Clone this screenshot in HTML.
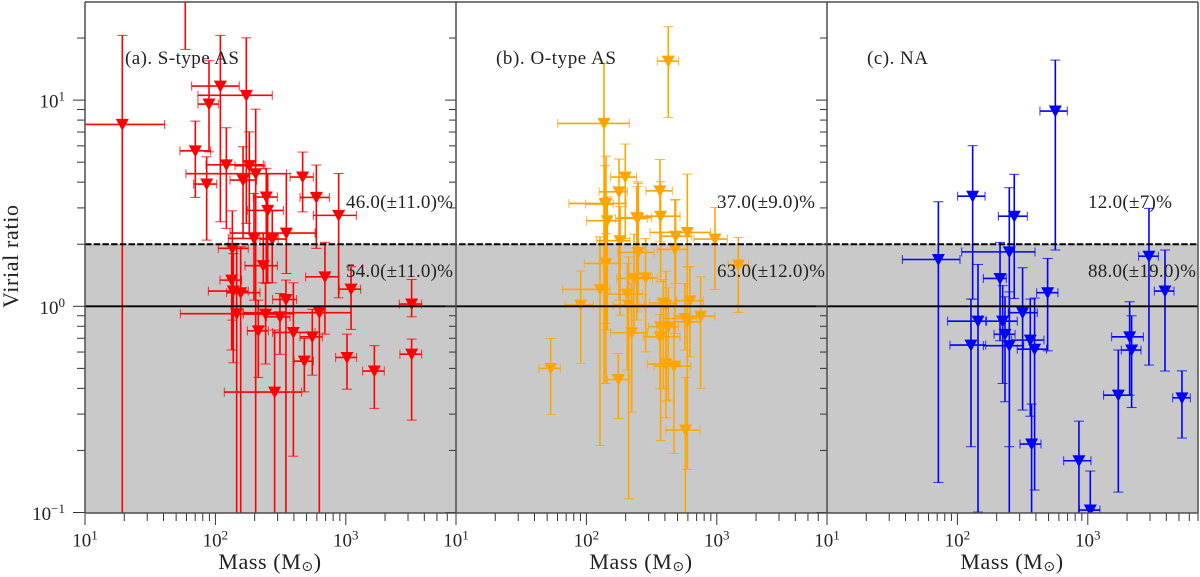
<!DOCTYPE html>
<html lang="en">
<head>
<meta charset="utf-8">
<title>Virial ratio versus mass</title>
<style>
html,body{margin:0;padding:0;background:#fff;width:1200px;height:577px;overflow:hidden}
svg{display:block;overflow:hidden}
text{font-family:"Liberation Serif","DejaVu Serif",serif;fill:#222}
</style>
</head>
<body>
<svg id="chart" xmlns="http://www.w3.org/2000/svg" width="1200" height="577" viewBox="0 0 1200 577">
  <defs>
    <clipPath id="clip-a"><rect x="85" y="2" width="371" height="511"/></clipPath>
    <clipPath id="clip-b"><rect x="456" y="2" width="371" height="511"/></clipPath>
    <clipPath id="clip-c"><rect x="827" y="2" width="371" height="511"/></clipPath>
  </defs>
  <rect x="85" y="244" width="1113" height="269" fill="#c9c9c9"/>
  <g id="marks"></g>
  <line x1="85" x2="1198" y1="244.2" y2="244.2" stroke="#000" stroke-width="2" stroke-dasharray="6.5 2.2"/>
  <line x1="85" x2="1198" y1="306.3" y2="306.3" stroke="#000" stroke-width="1.8"/>
  <g id="axes"></g>
  <g font-size="19">
    <text x="125" y="64" textLength="114">(a). S-type AS</text>
    <text x="496" y="64" textLength="120">(b). O-type AS</text>
    <text x="867" y="64" textLength="61">(c). NA</text>
    <text x="346" y="208" textLength="107">46.0(±11.0)%</text>
    <text x="346" y="277" textLength="107">54.0(±11.0)%</text>
    <text x="717" y="208" textLength="98">37.0(±9.0)%</text>
    <text x="717" y="277" textLength="108">63.0(±12.0)%</text>
    <text x="1088" y="208" textLength="84">12.0(±7)%</text>
    <text x="1088" y="277" textLength="108">88.0(±19.0)%</text>
  </g>
  <text transform="translate(18 308) rotate(-90)" font-size="22" textLength="103">Virial ratio</text>
  <text x="270" y="569" font-size="22" text-anchor="middle" letter-spacing="0.6">Mass (M<tspan dy="2" font-size="14" font-family="DejaVu Sans">⊙</tspan><tspan dy="-2">)</tspan></text>
  <text x="641" y="569" font-size="22" text-anchor="middle" letter-spacing="0.6">Mass (M<tspan dy="2" font-size="14" font-family="DejaVu Sans">⊙</tspan><tspan dy="-2">)</tspan></text>
  <text x="1012" y="569" font-size="22" text-anchor="middle" letter-spacing="0.6">Mass (M<tspan dy="2" font-size="14" font-family="DejaVu Sans">⊙</tspan><tspan dy="-2">)</tspan></text>
</svg>
<script>
// All values are log10 of the quantity. -1.5 means the lower bar runs off the axis.
const sLogMass=[1.286,1.769,1.951,2.038,2.237,1.846,1.933,2.084,2.212,2.260,2.309,2.390,2.401,2.669,2.774,2.945,2.544,2.296,2.436,2.130,2.367,2.840,2.125,3.040,2.137,2.194,2.541,3.505,2.163,2.385,2.495,2.797,2.329,2.598,2.743,3.009,2.682,3.505,3.219,2.454];
const sLogRatio=[0.882,1.700,0.981,1.068,1.023,0.754,0.593,0.686,0.612,0.682,0.643,0.530,0.465,0.627,0.528,0.441,0.355,0.329,0.326,0.281,0.197,0.143,0.127,0.083,0.074,0.066,0.033,0.011,-0.036,-0.038,-0.051,-0.031,-0.119,-0.127,-0.148,-0.248,-0.266,-0.232,-0.314,-0.416];
const sMassLow=[0.700,1.670,1.866,1.818,1.866,1.728,1.833,1.928,2.112,2.150,1.774,2.291,2.245,2.572,2.649,2.751,2.112,2.099,2.342,2.022,2.227,2.692,2.035,2.950,1.946,2.086,2.439,3.410,1.731,2.214,2.393,2.214,2.245,2.439,2.649,2.922,2.603,3.415,3.129,2.068];
const sMassHigh=[1.611,1.870,2.022,2.183,2.436,1.964,2.010,2.367,2.316,2.380,2.546,2.475,2.521,2.751,2.874,3.081,2.764,2.482,2.546,2.252,2.475,2.948,2.201,3.114,2.252,2.342,2.623,3.582,2.597,2.495,2.572,3.040,2.406,2.764,2.820,3.083,2.751,3.582,3.295,2.661];
const sRatioHigh=[1.314,2.200,1.191,1.314,1.302,0.898,0.725,0.866,0.774,0.846,0.956,0.669,0.644,0.748,0.685,0.644,0.644,0.547,0.463,0.463,0.353,0.310,0.289,0.192,0.256,0.289,0.127,0.130,0.305,0.111,0.062,-0.010,0.030,0.114,-0.015,-0.135,-0.156,-0.159,-0.191,-0.115];
const sRatioLow=[-1.5,1.246,0.749,0.410,0.402,0.528,0.321,0.378,0.329,0.353,-1.5,0.114,0.114,0.458,0.281,0.041,0.159,0.030,0.114,-0.067,0.114,-0.135,-0.212,-0.112,-0.274,-1.5,-1.5,-0.051,-1.5,-0.280,-0.233,-1.5,-0.345,-0.727,-0.334,-0.402,-0.415,-0.552,-0.495,-1.5];

const oLogMass=[2.628,2.135,2.298,2.250,2.564,2.150,2.143,2.569,2.393,2.386,2.160,2.684,2.774,2.986,3.165,2.258,2.679,2.398,2.150,2.365,2.454,2.104,1.956,2.314,2.324,2.347,1.726,2.245,2.759,2.876,2.794,2.756,2.774,2.610,2.590,2.569,2.628,2.564,2.610,2.672];
const oLogRatio=[1.189,0.887,0.627,0.555,0.560,0.499,0.496,0.437,0.426,0.430,0.415,0.340,0.358,0.326,0.200,0.318,0.276,0.261,0.208,0.135,0.138,0.082,0.006,0.059,0.006,-0.128,-0.301,-0.355,-0.600,-0.048,0.027,-0.059,-0.075,0.005,0.016,-0.099,-0.099,-0.148,-0.280,-0.290];
const oMassLow=[2.544,1.780,2.186,2.097,2.457,1.866,1.994,2.385,2.224,2.258,2.002,2.577,2.488,2.825,3.088,2.079,2.544,2.240,1.984,2.232,2.347,1.818,1.836,2.150,2.206,2.186,1.636,2.160,2.608,2.672,2.692,2.590,2.672,2.411,2.482,2.475,2.539,2.436,2.467,2.518];
const oMassHigh=[2.707,2.329,2.385,2.314,2.659,2.304,2.206,2.718,2.467,2.500,2.263,2.807,2.953,3.081,3.242,2.334,2.774,2.518,2.263,2.508,2.544,2.181,2.053,2.431,2.442,2.467,1.800,2.329,2.871,2.986,2.896,2.845,2.871,2.672,2.687,2.667,2.705,2.718,2.718,2.799];
const oRatioHigh=[1.356,1.178,0.787,0.714,0.712,0.728,0.682,0.604,0.604,0.580,0.531,0.518,0.641,0.479,0.334,0.483,0.515,0.596,0.353,0.350,0.329,0.337,0.171,0.208,0.240,0.110,-0.156,-0.229,-0.345,0.143,0.192,0.110,0.190,0.170,0.130,0.030,0.090,-0.040,-0.083,-0.100];
const oRatioLow=[0.916,-0.374,0.329,0.030,0.313,-0.115,-0.083,0.119,-0.027,-0.067,-0.115,0.111,0.192,0.082,-0.030,-0.043,-0.132,0.062,-0.374,-0.132,-0.221,-0.675,-0.277,-0.309,-0.933,-0.513,-0.524,-0.544,-1.5,-0.398,-0.245,-0.212,-0.791,-0.460,-0.400,-0.651,-0.455,-0.400,-0.541,-0.714];

const nLogMass=[2.751,2.117,1.854,2.436,2.398,2.327,3.469,3.592,2.692,2.500,2.158,2.347,2.365,2.104,2.398,2.559,2.592,3.321,3.336,3.234,3.722,2.569,2.932,3.019];
const nLogRatio=[0.947,0.534,0.227,0.437,0.264,0.135,0.243,0.074,0.066,-0.031,-0.072,-0.072,-0.136,-0.188,-0.191,-0.164,-0.208,-0.148,-0.212,-0.431,-0.444,-0.668,-0.749,-0.988];
const nMassLow=[2.633,2.002,1.578,2.314,2.033,2.199,3.390,3.510,2.608,2.390,1.925,2.224,2.281,1.943,2.199,2.416,2.459,3.183,3.257,3.121,3.651,2.480,2.815,2.935];
const nMassHigh=[2.843,2.212,2.020,2.536,2.595,2.375,3.541,3.661,2.771,2.613,2.217,2.459,2.442,2.217,2.508,2.664,2.684,3.426,3.408,3.336,3.786,2.641,3.024,3.093];
const nRatioHigh=[1.194,0.779,0.507,0.640,0.575,0.310,0.475,0.273,0.232,0.187,0.203,0.100,0.046,0.035,0.070,0.035,0.040,0.022,-0.046,-0.212,-0.313,-0.474,-0.557,-0.799];
const nRatioLow=[0.273,0.035,-0.854,0.038,-0.681,-0.167,-0.285,-0.314,-0.216,-0.503,-0.998,-0.374,-0.463,-0.681,-1.5,-0.533,-0.891,-0.431,-0.491,-0.901,-0.639,-1.5,-1.5,-1.5];

const xTickExponents=[1,2,3];
const yTickExponents=[1,0,-1];
const minorMultipliers=[2,3,4,5,6,7,8,9];
const xTickLabels=["1","2","3"];
const yTickLabels=["1","0","−1"];

const NS="http://www.w3.org/2000/svg";
const X_ORIGINS=[85,456,827];
const PANEL_WIDTH=371;
const DEC_X=130.4, DEC_Y=206.2, Y_ZERO=306.3, TOP=2, BOTTOM=513, RIGHT=1198;
function xScale(p,v){return X_ORIGINS[p]+(v-1)*DEC_X;}
function yScale(v){return Y_ZERO-v*DEC_Y;}
function mk(tag,attrs,parent){
  const el=document.createElementNS(NS,tag);
  for(const k in attrs){el.setAttribute(k,attrs[k]);}
  parent.appendChild(el);
  return el;
}
const marks=document.getElementById('marks');
const axes=document.getElementById('axes');

function drawSeries(p,name,color,clip,lm,lr,xl,xh,yh,yl){
  const left=X_ORIGINS[p], right=left+PANEL_WIDTH;
  const g=mk('g',{'clip-path':'url(#'+clip+')'},marks);
  
  
  function clampX(v){return Math.max(left,Math.min(right,v));}
  function clampY(v){return Math.max(TOP,Math.min(BOTTOM,v));}
  function inY(v){return v>=TOP&&v<=BOTTOM;}
  function inX(v){return v>=left&&v<=right;}
  for(let i=0;i<lm.length;i++){
    const x=xScale(p,lm[i]), y=yScale(lr[i]);
    const a=xScale(p,xl[i]), b=xScale(p,xh[i]), t=yScale(yh[i]), u=yScale(yl[i]);
    const pt=mk('g',{},g);
    
    
    if(inY(y)){
      mk('line',{x1:clampX(a),x2:clampX(b),y1:y,y2:y,stroke:color,'stroke-width':1.6},pt);
      if(inX(a)){mk('line',{x1:a,x2:a,y1:y-4.5,y2:y+4.5,stroke:color,'stroke-width':1,opacity:0.8},pt);}
      if(inX(b)){mk('line',{x1:b,x2:b,y1:y-4.5,y2:y+4.5,stroke:color,'stroke-width':1,opacity:0.8},pt);}
    }
    mk('line',{x1:x,x2:x,y1:clampY(t),y2:clampY(u),stroke:color,'stroke-width':1.6},pt);
    if(inY(t)){mk('line',{x1:x-5,x2:x+5,y1:t,y2:t,stroke:color,'stroke-width':1,opacity:0.8},pt);}
    if(inY(u)){mk('line',{x1:x-5,x2:x+5,y1:u,y2:u,stroke:color,'stroke-width':1,opacity:0.8},pt);}
    if(inY(y)){
      mk('polygon',{points:(x-6.5)+','+(y-5.5)+' '+(x+6.5)+','+(y-5.5)+' '+x+','+(y+6.5),fill:color},pt);
    }
  }
}
drawSeries(0,'s-type-as','#ff0000','clip-a',sLogMass,sLogRatio,sMassLow,sMassHigh,sRatioHigh,sRatioLow);
drawSeries(1,'o-type-as','#ffa500','clip-b',oLogMass,oLogRatio,oMassLow,oMassHigh,oRatioHigh,oRatioLow);
drawSeries(2,'na','#0000ff','clip-c',nLogMass,nLogRatio,nMassLow,nMassHigh,nRatioHigh,nRatioLow);

function tick(x1,y1,x2,y2){
  const t=mk('line',{x1:x1,y1:y1,x2:x2,y2:y2,stroke:'#333','stroke-width':1},axes);
  
  
}
function power(x,y,anchor,exp){
  const t=mk('text',{x:x,y:y,'text-anchor':anchor,'font-size':19},axes);
  
  
  t.appendChild(document.createTextNode('10'));
  const s=mk('tspan',{dy:-7,'font-size':13},t);
  s.textContent=exp;
}
// x axis ticks and labels for each panel
X_ORIGINS.forEach(function(o,p){
  xTickExponents.forEach(function(e,i){
    const x=xScale(p,e);
    tick(x,BOTTOM,x,BOTTOM+12);
    power(x,546.5,'middle',xTickLabels[i]);
    minorMultipliers.forEach(function(m){
      const lx=xScale(p,e+Math.log10(m));
      if(lx<=o+PANEL_WIDTH+0.5){tick(lx,BOTTOM,lx,BOTTOM+8);}
    });
  });
});
// y axis ticks: outward on the far left, leftward from each inner spine
[[85,12,8],[456,11,7],[827,11,7]].forEach(function(s){
  yTickExponents.forEach(function(e){
    const y=yScale(e);
    tick(s[0]-s[1],y,s[0],y);
    minorMultipliers.forEach(function(m){
      const ly=yScale(e+Math.log10(m));
      if(ly>=TOP&&ly<=BOTTOM){tick(s[0]-s[2],ly,s[0],ly);}
    });
  });
});
yTickExponents.forEach(function(e,i){
  power(65,yScale(e)+7.5,'end',yTickLabels[i]);
});
// spines
[[85,TOP,85,BOTTOM],[456,TOP,456,BOTTOM],[827,TOP,827,BOTTOM],[1198,TOP,1198,BOTTOM],[85,TOP,RIGHT,TOP],[85,BOTTOM,RIGHT,BOTTOM]].forEach(function(c){
  const s=mk('line',{x1:c[0],y1:c[1],x2:c[2],y2:c[3],stroke:'#4d4d4d','stroke-width':1.5},axes);
  
  
});
</script>
</body>
</html>
